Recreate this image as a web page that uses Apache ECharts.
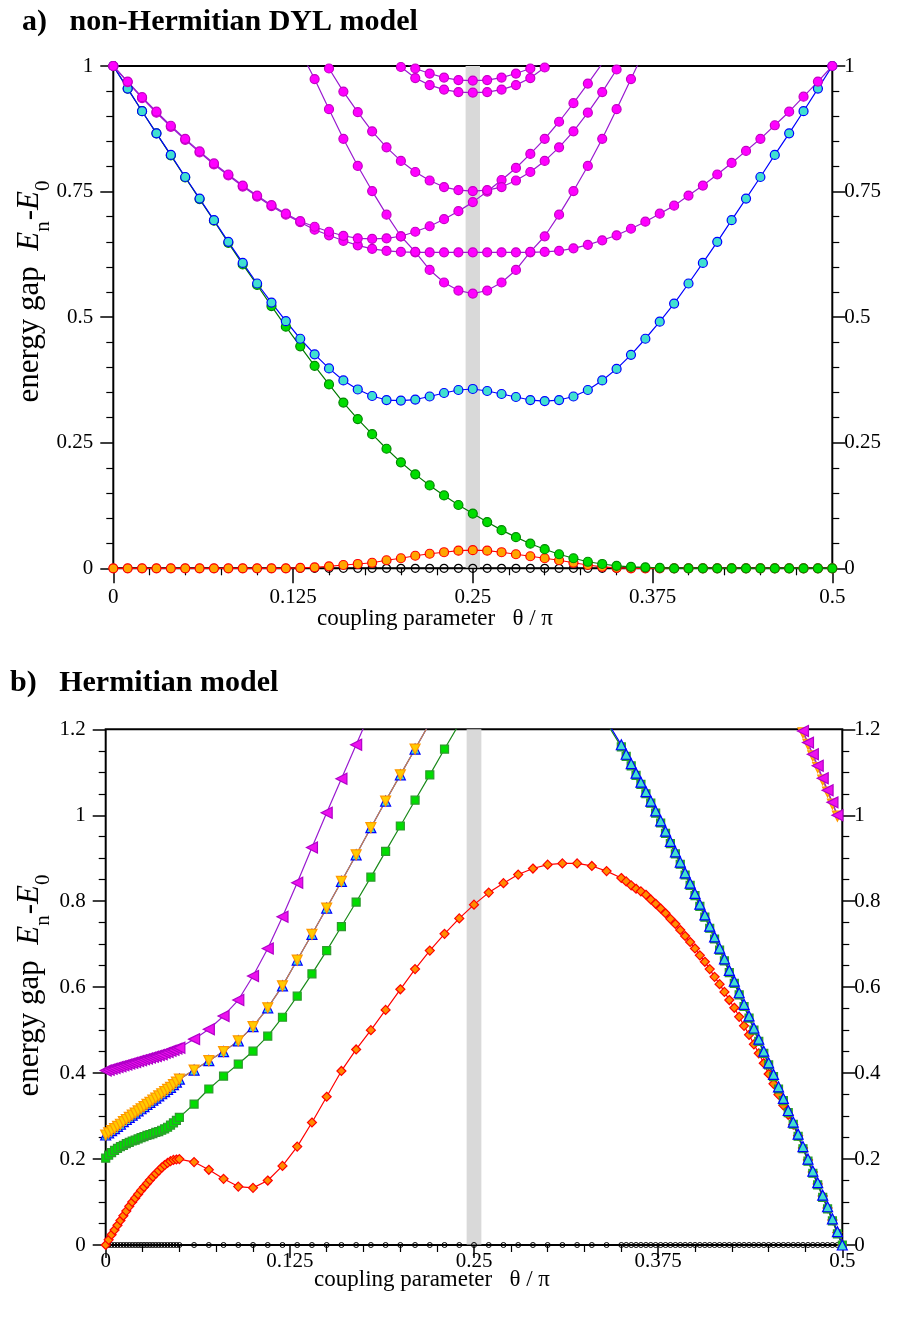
<!DOCTYPE html>
<html><head><meta charset="utf-8">
<script src="https://cdn.jsdelivr.net/npm/echarts@6/dist/echarts.min.js"></script>
<style>html,body{margin:0;padding:0;background:#fff}#c{width:901px;height:1324px}</style>
</head><body><div id="c"></div>
<script>
// ---------- Panel a data (theta/pi, step 0.01) ----------
const thetaA = [0,0.01,0.02,0.03,0.04,0.05,0.06,0.07,0.08,0.09,0.10,0.11,0.12,0.13,0.14,0.15,0.16,0.17,0.18,0.19,0.20,
  0.21,0.22,0.23,0.24,0.25,0.26,0.27,0.28,0.29,0.30,0.31,0.32,0.33,0.34,0.35,0.36,0.37,0.38,0.39,0.40,
  0.41,0.42,0.43,0.44,0.45,0.46,0.47,0.48,0.49,0.50];
const blackA = [0,0,0,0,0,0,0,0,0,0,0,0,0,0,0,0,0,0,0,0,0,0,0,0,0,0,0,0,0,0,0,0,0,0,0,0,0,0,0,0,0,0,0,0,0,0,0,0,0,0,0];
const orangeA = [0,0,0,0,0,0,0,0,0,0,0,0,0,0.001,0.002,0.004,0.0066,0.0086,0.011,0.016,0.020,
  0.025,0.029,0.032,0.035,0.036,0.035,0.032,0.028,0.024,0.020,0.016,0.011,0.0066,0.003,0.001,0,0,0,0,0,
  0,0,0,0,0,0,0,0,0,0];
const greenA = [1,0.955,0.910,0.866,0.822,0.778,0.735,0.692,0.648,0.605,0.564,0.522,0.481,0.442,0.403,0.366,0.330,0.297,0.267,0.238,0.211,
  0.187,0.165,0.145,0.126,0.109,0.092,0.076,0.062,0.049,0.038,0.028,0.020,0.013,0.0086,0.005,0.003,0.002,0.001,0,0,
  0,0,0,0,0,0,0,0,0,0];
const cyanA = [1,0.955,0.910,0.866,0.823,0.779,0.736,0.693,0.650,0.608,0.567,0.529,0.492,0.457,0.426,0.398,0.374,0.356,0.343,0.335,0.334,
  0.336,0.342,0.349,0.355,0.357,0.353,0.347,0.341,0.335,0.333,0.335,0.342,0.355,0.374,0.397,0.425,0.457,0.491,0.527,0.567,
  0.608,0.650,0.693,0.736,0.779,0.823,0.866,0.910,0.955,1];
const magBA = [1,0.969,0.938,0.909,0.881,0.855,0.830,0.806,0.784,0.762,0.742,0.723,0.706,0.691,0.680,0.670,0.662,0.657,0.656,0.657,0.661,
  0.670,0.681,0.695,0.711,0.729,0.750,0.773,0.797,0.825,0.855,0.889,0.926,0.965,1.005,null,null,null,null,null,null,
  null,null,null,null,null,null,null,null,null,null];
const magFlatA = [1,0.968,0.936,0.907,0.879,0.853,0.828,0.804,0.782,0.760,0.740,0.721,0.704,0.689,0.674,0.663,0.652,0.643,0.636,0.632,0.630,
  0.629,0.629,0.629,0.629,0.629,0.629,0.629,0.629,0.629,0.630,0.632,0.637,0.644,0.653,0.663,0.676,0.690,0.706,0.722,0.742,
  0.762,0.784,0.807,0.831,0.855,0.882,0.909,0.939,0.969,1.0];
const magLowA = [null,null,null,null,null,null,null,null,null,null,null,null,null,1.03,0.974,0.914,0.855,0.801,0.751,0.704,0.661,
  0.630,0.594,0.569,0.553,0.547,0.553,0.569,0.594,0.630,0.661,0.704,0.751,0.801,0.855,0.914,0.974,1.035,null,null,null,
  null,null,null,null,null,null,null,null,null,null];
const magMidA = [null,null,null,null,null,null,null,null,null,null,null,null,null,null,1.04,0.995,0.949,0.908,0.870,0.838,0.811,
  0.789,0.772,0.759,0.753,0.751,0.753,0.759,0.772,0.789,0.811,0.838,0.870,0.907,0.948,0.993,1.04,null,null,null,null,
  null,null,null,null,null,null,null,null,null,null];
const magTop1A = [null,null,null,null,null,null,null,null,null,null,null,null,null,null,null,null,null,null,null,null,1.01,
  0.995,0.985,0.977,0.972,0.971,0.972,0.977,0.985,0.995,1.01,null,null,null,null,null,null,null,null,null,null,
  null,null,null,null,null,null,null,null,null,null];
const magTop2A = [null,null,null,null,null,null,null,null,null,null,null,null,null,null,null,null,null,null,null,1.03,0.998,
  0.976,0.962,0.953,0.948,0.947,0.948,0.953,0.962,0.976,0.997,1.03,null,null,null,null,null,null,null,null,null,
  null,null,null,null,null,null,null,null,null,null];

// ---------- Panel b data ----------
const thetaB = [0,0.002,0.004,0.006,0.008,0.010,0.012,0.014,0.016,0.018,0.020,0.022,0.024,0.026,0.028,0.030,0.032,0.034,0.036,0.038,0.040,0.042,0.044,0.046,0.048,0.050,
  0.06,0.07,0.08,0.09,0.10,0.11,0.12,0.13,0.14,0.15,0.16,0.17,0.18,0.19,0.20,0.21,0.22,0.23,0.24,0.25,0.26,0.27,0.28,0.29,0.30,0.31,0.32,0.33,0.34,
  0.35,0.3533,0.3567,0.36,0.3633,0.3667,0.37,0.3733,0.3767,0.38,0.3833,0.3867,0.39,0.3933,0.3967,0.40,0.4033,0.4067,0.41,0.4133,0.4167,0.42,0.4233,0.4267,
  0.43,0.4333,0.4367,0.44,0.4433,0.4467,0.45,0.4533,0.4567,0.46,0.4633,0.4667,0.47,0.4733,0.4767,0.48,0.4833,0.4867,0.49,0.4933,0.4967,0.50];
const blackB = [0,0,0,0,0,0,0,0,0,0,0,0,0,0,0,0,0,0,0,0,0,0,0,0,0,0,
  0,0,0,0,0,0,0,0,0,0,0,0,0,0,0,0,0,0,0,0,0,0,0,0,0,0,0,0,0,
  0,0,0,0,0,0,0,0,0,0,0,0,0,0,0,0,0,0,0,0,0,0,0,0,0,0,0,0,0,0,0,0,0,0,0,0,0,0,0,0,0,0,0,0,0,0];
const redB = [0,0.012,0.024,0.035,0.046,0.057,0.068,0.079,0.090,0.100,0.109,0.118,0.127,0.135,0.143,0.151,0.159,0.166,0.173,0.180,0.186,0.191,0.195,0.198,0.199,0.200,
  0.193,0.175,0.154,0.136,0.133,0.150,0.184,0.229,0.285,0.345,0.405,0.455,0.500,0.547,0.595,0.642,0.685,0.724,0.760,0.792,0.820,0.842,0.862,0.876,0.885,0.888,0.888,0.882,0.870,
  0.854,0.846,0.837,0.829,0.823,0.815,0.804,0.794,0.783,0.772,0.759,0.747,0.733,0.719,0.705,0.690,0.674,0.659,0.642,0.624,0.607,0.589,0.570,0.552,
  0.531,0.510,0.489,0.467,0.446,0.423,0.398,0.375,0.350,0.325,0.303,0.280,0.254,0.226,0.198,0.170,0.142,0.114,0.086,0.058,0.029,0];
const greenB = [0.202,0.209,0.215,0.220,0.225,0.229,0.232,0.236,0.239,0.242,0.244,0.247,0.250,0.252,0.255,0.257,0.259,0.262,0.264,0.267,0.270,0.274,0.279,0.284,0.290,0.297,
  0.328,0.363,0.393,0.421,0.451,0.486,0.530,0.579,0.631,0.685,0.741,0.798,0.856,0.916,0.975,1.035,1.094,1.154,1.213,null,null,null,null,null,null,null,null,null,1.215,
  1.159,1.137,1.115,1.093,1.072,1.050,1.028,1.005,0.982,0.958,0.934,0.910,0.886,0.861,0.837,0.813,0.788,0.763,0.737,0.712,0.686,0.661,0.634,0.609,
  0.582,0.555,0.528,0.500,0.474,0.446,0.419,0.392,0.363,0.336,0.308,0.281,0.253,0.224,0.195,0.167,0.140,0.111,0.084,0.056,0.026,0];
const blueB = [0.256,0.261,0.266,0.271,0.276,0.281,0.287,0.292,0.297,0.302,0.307,0.312,0.317,0.322,0.327,0.332,0.337,0.342,0.347,0.352,0.357,0.362,0.367,0.373,0.379,0.386,
  0.407,0.429,0.450,0.475,0.508,0.552,0.603,0.663,0.723,0.784,0.846,0.908,0.971,1.033,1.094,1.154,1.215,null,null,null,null,null,null,null,null,null,null,null,1.22,
  1.164,1.142,1.120,1.098,1.077,1.055,1.033,1.010,0.987,0.963,0.939,0.915,0.891,0.866,0.842,0.818,0.793,0.768,0.742,0.717,0.691,0.666,0.639,0.614,
  0.587,0.560,0.533,0.505,0.479,0.451,0.424,0.397,0.368,0.341,0.313,0.286,0.258,0.229,0.200,0.172,0.145,0.116,0.089,0.061,0.031,0];
const yellowB = [0.256,0.261,0.266,0.271,0.276,0.281,0.287,0.292,0.297,0.302,0.307,0.312,0.317,0.322,0.327,0.332,0.337,0.342,0.347,0.352,0.357,0.362,0.367,0.373,0.379,0.386,
  0.407,0.429,0.450,0.475,0.508,0.552,0.603,0.663,0.723,0.784,0.846,0.908,0.971,1.033,1.094,1.154,1.215,null,null,null,null,null,null,null,null,null,null,null,null,
  null,null,null,null,null,null,null,null,null,null,null,null,null,null,null,null,null,null,null,null,null,null,null,null,
  null,null,null,null,null,null,null,null,null,null,null,1.25,1.220,1.192,1.165,1.138,1.111,1.082,1.054,1.026,0.998];
const violetB = [0.406,0.408,0.410,0.412,0.414,0.416,0.418,0.420,0.422,0.424,0.426,0.428,0.430,0.432,0.434,0.436,0.438,0.440,0.442,0.444,0.447,0.449,0.452,0.454,0.457,0.459,
  0.479,0.502,0.533,0.570,0.626,0.690,0.764,0.843,0.925,1.006,1.085,1.164,1.243,null,null,null,null,null,null,null,null,null,null,null,null,null,null,null,null,
  null,null,null,null,null,null,null,null,null,null,null,null,null,null,null,null,null,null,null,null,null,null,null,null,
  null,null,null,null,null,null,null,null,null,null,null,1.25,1.224,1.196,1.169,1.142,1.115,1.086,1.058,1.030,1.000];

const xTicks = [0, 0.125, 0.25, 0.375, 0.5];
const band = [0.245, 0.255];
const yMaxA = 1, yMaxB = 1.2;

// ---------- build ----------
const SERIF = 'Liberation Serif';
function pairs(xs, ys, ymax) {
  return xs.map((x, i) => {
    const y = ys[i];
    if (y === null || y === undefined) return [x, '-'];
    if (y > ymax + 1e-9) return { value: [x, y], symbol: 'none' };
    return [x, y];
  });
}

function mkSeries(gi, xs, ys, o) {
  return {
    type: 'line', xAxisIndex: gi, yAxisIndex: gi * 2, data: pairs(xs, ys, gi === 0 ? yMaxA : yMaxB),
    clip: true, connectNulls: false, animation: false, z: 3,
    symbol: o.symbol || 'circle', symbolSize: o.size || 9, symbolRotate: o.rotate || 0,
    lineStyle: { color: o.line, width: o.lw || 1.2 },
    itemStyle: { color: o.fill, borderColor: o.border, borderWidth: o.bw || 1.2 },
    emphasis: { disabled: true }
  };
}

function bandSeries(gi) {
  return {
    type: 'line', xAxisIndex: gi, yAxisIndex: gi * 2, data: [], z: 1, silent: true, animation: false,
    markArea: { silent: true, itemStyle: { color: '#d9d9d9' }, data: [[{ xAxis: band[0] }, { xAxis: band[1] }]] }
  };
}

const labelStyle = { color: '#000', fontFamily: SERIF, fontSize: 21 };
function xAx(gi, margin, tickLen) {
  return {
    type: 'value', gridIndex: gi, min: 0, max: 0.5, interval: 0.125, position: 'bottom',
    axisLine: { show: false },
    axisTick: { show: true, inside: false, length: tickLen, lineStyle: { color: '#000', width: 1.5 } },
    minorTick: { show: true, splitNumber: 5, length: 7, lineStyle: { color: '#000', width: 1.2 } },
    splitLine: { show: false },
    axisLabel: Object.assign({ margin: margin, formatter: v => String(v) }, labelStyle)
  };
}
function yAx(gi, pos, max, interval, minorSplit, margin) {
  return {
    type: 'value', gridIndex: gi, min: 0, max: max, interval: interval, position: pos,
    axisLine: { show: false },
    axisTick: { show: true, inside: false, length: 13, lineStyle: { color: '#000', width: 1.5 } },
    minorTick: { show: true, splitNumber: minorSplit, length: 7, lineStyle: { color: '#000', width: 1.2 } },
    splitLine: { show: false },
    axisLabel: Object.assign({ margin: margin, formatter: v => String(+v.toFixed(3)) }, labelStyle)
  };
}

const MAG = { line: '#9a1ad0', fill: '#ff00ff', border: '#c400c4' };

const series = [
  bandSeries(0),
  mkSeries(0, thetaA, blackA, { line: '#000', fill: 'rgba(255,255,255,0)', border: '#000', size: 8 }),
  mkSeries(0, thetaA, orangeA, { line: '#ff0000', fill: '#ffa500', border: '#ff0000' }),
  mkSeries(0, thetaA, greenA, { line: '#007a00', fill: '#00dd00', border: '#008800' }),
  mkSeries(0, thetaA, cyanA, { line: '#0000ff', fill: '#40e0d0', border: '#0000ff' }),
  mkSeries(0, thetaA, magFlatA, MAG),
  mkSeries(0, thetaA, magBA, MAG),
  mkSeries(0, thetaA, magLowA, MAG),
  mkSeries(0, thetaA, magMidA, MAG),
  mkSeries(0, thetaA, magTop2A, MAG),
  mkSeries(0, thetaA, magTop1A, MAG),

  bandSeries(1),
  mkSeries(1, thetaB, blackB, { line: '#000', fill: 'rgba(255,255,255,0)', border: '#000', size: 5, bw: 1 }),
  mkSeries(1, thetaB, redB, { line: '#ff0000', fill: '#ff8c00', border: '#ff0000', symbol: 'diamond', size: 9 }),
  mkSeries(1, thetaB, greenB, { line: '#1a8a1a', fill: '#00dd00', border: '#2e9a2e', symbol: 'rect', size: 8 }),
  mkSeries(1, thetaB, blueB, { line: '#0000ff', fill: '#40e0d0', border: '#0000ff', symbol: 'triangle', size: 10 }),
  mkSeries(1, thetaB, yellowB, { line: '#d08a40', fill: '#ffcc00', border: '#ff9900', symbol: 'triangle', size: 10, rotate: 180 }),
  mkSeries(1, thetaB, violetB, { line: '#9a1ad0', fill: '#ee10ee', border: '#b000c8', symbol: 'triangle', size: 11, rotate: 90 })
];

const T = (x, y, txt, o) => ({ type: 'text', x: x, y: y, silent: true, z: 100,
  style: Object.assign({ text: txt, fill: '#000', fontFamily: SERIF, fontSize: 23 }, o || {}) });

function yTitle(x, y) {
  return {
    type: 'text', x: x, y: y, rotation: Math.PI / 2, silent: true, z: 100,
    style: {
      text: '{a|energy gap  }{e|E}{s|n}{a|-}{e|E}{s|0}',
      align: 'center', verticalAlign: 'middle',
      rich: {
        a: { fontFamily: SERIF, fontSize: 31, fill: '#000', lineHeight: 38 },
        e: { fontFamily: SERIF, fontSize: 31, fontStyle: 'italic', fill: '#000', lineHeight: 38 },
        s: { fontFamily: SERIF, fontSize: 21, fill: '#000', lineHeight: 24, verticalAlign: 'bottom', padding: [0, 1, -5, 0] }
      }
    }
  };
}

const option = {
  backgroundColor: '#fff',
  animation: false,
  grid: [
    { left: 113.3, top: 66, width: 719, height: 502.3, show: true, borderColor: '#000', borderWidth: 2, backgroundColor: 'transparent' },
    { left: 105.7, top: 729.3, width: 736.6, height: 515.7, show: true, borderColor: '#000', borderWidth: 2, backgroundColor: 'transparent' }
  ],
  xAxis: [xAx(0, 19, 15), xAx(1, 6, 13)],
  yAxis: [
    yAx(0, 'left', 1, 0.25, 5, 20), yAx(0, 'right', 1, 0.25, 5, 12),
    yAx(1, 'left', 1.2, 0.2, 4, 20), yAx(1, 'right', 1.2, 0.2, 4, 12)
  ],
  series: series,
  graphic: [
    T(22, 22, 'a)   non-Hermitian DYL model', { fontWeight: 'bold', fontSize: 30, verticalAlign: 'middle' }),
    T(10, 683, 'b)   Hermitian model', { fontWeight: 'bold', fontSize: 30, verticalAlign: 'middle' }),
    T(435, 619, 'coupling parameter   θ / π', { align: 'center', verticalAlign: 'middle' }),
    T(432, 1280, 'coupling parameter   θ / π', { align: 'center', verticalAlign: 'middle' }),
    yTitle(30, 291),
    yTitle(30, 985)
  ]
};
const chart = echarts.init(document.getElementById('c'));
chart.setOption(option);
</script>
</body></html>
